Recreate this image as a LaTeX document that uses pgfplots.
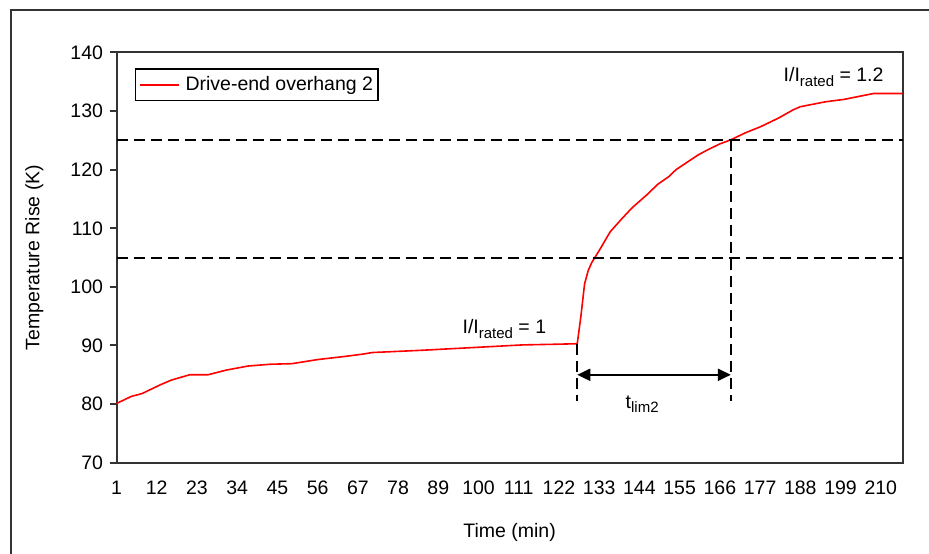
\documentclass[border=0pt]{standalone}
\usepackage{fontspec}
\setmainfont{Liberation Sans}
\usepackage{pgfplots}
\pgfplotsset{compat=1.18}
\usetikzlibrary{arrows.meta}
\newcommand\fs{\fontsize{19.5}{23}\selectfont}
\newcommand\sub[1]{\raisebox{-4.5pt}{\fontsize{15}{15}\selectfont #1}}
\definecolor{axgray}{RGB}{51,51,51}
\begin{document}
\begin{tikzpicture}[x=1pt,y=1pt]
\useasboundingbox (0,0) rectangle (929,554);
\draw[line width=2pt, color=axgray] (11,-5) -- (11,544) -- (934,544);
\begin{axis}[
  at={(116.5pt,91.3pt)}, anchor=south west,
  scale only axis, width=786.2pt, height=410.2pt,
  xmin=1, xmax=216, ymin=70, ymax=140,
  xtick={1,12,...,210}, ytick={70,80,...,140},
  axis line style={line width=2pt, color=axgray},
  tick align=outside,
  x tick style={draw=none},
  y tick style={line width=2pt, color=axgray},
  major tick length=6.5pt,
  ytick pos=left, xtick pos=bottom,
  tick label style={font=\fs},
  /pgf/number format/assume math mode=true,
  yticklabel style={xshift=-3.5pt},
  xticklabel style={yshift=-8pt},
  xlabel={Time (min)}, ylabel={Temperature Rise (K)},
  label style={font=\fs},
  xlabel style={at={(axis description cs:0.5,-0.171)}, anchor=center},
  ylabel style={at={(axis description cs:-0.1045,0.5)}, anchor=center},
  legend style={at={(axis description cs:0.0235,0.962)}, anchor=north west,
    draw=black, line width=1.5pt, font=\fs, inner xsep=3pt, inner ysep=6pt},
  legend image code/.code={\draw[#1, red, line width=1.8pt] (0pt,0pt) -- (39pt,0pt);},
  clip=false,
]
\addplot[red, line width=1.6pt] coordinates {
(1,80.1) (5,81.3) (8,81.8) (13,83.3) (16,84.1) (21,85.0) (26,85.0) (31,85.8)
(37,86.5) (43,86.8) (49,86.9) (56,87.6) (63,88.1) (68,88.5) (71,88.8) (78,89.0)
(85,89.2) (94,89.5) (103,89.8) (112,90.1) (120,90.2) (127,90.3) (128,95.0)
(129,100.5) (130,102.8) (131,104.2) (133,106.2) (136,109.4) (139,111.5)
(142,113.5) (146,115.7) (149,117.5) (152,118.8) (154,120.0) (160,122.5)
(163,123.5) (166,124.4) (169,125.1) (173,126.3) (177,127.3) (182,128.8)
(186,130.2) (188,130.75) (195,131.6) (200,132.0) (204,132.5) (208,133.0)
(216,133.0)};
\addlegendentry{\hspace{4pt}Drive-end overhang 2}
\addplot[forget plot, black, line width=2pt, dash pattern=on 11pt off 6pt] coordinates {(1,125) (216,125)};
\addplot[forget plot, black, line width=2pt, dash pattern=on 11pt off 6pt] coordinates {(1,105) (216,105)};
\addplot[forget plot, black, line width=2pt, dash pattern=on 11pt off 6pt] coordinates {(127,90.3) (127,80.5)};
\addplot[forget plot, black, line width=2pt, dash pattern=on 11pt off 6pt] coordinates {(169,125) (169,80.5)};
\addplot[forget plot, black, line width=2pt, {Triangle[length=13pt,width=12pt]}-{Triangle[length=13pt,width=12pt]}] coordinates {(127,85) (169,85)};
\node[anchor=base west, inner sep=0, font=\fs] at (axis cs:95.6,92.0) {I/I\sub{rated} = 1};
\node[anchor=base west, inner sep=0, font=\fs] at (axis cs:183.4,135.0) {I/I\sub{rated} = 1.2};
\node[anchor=base west, inner sep=0, font=\fs] at (axis cs:140.2,79.3) {t\sub{lim2}};
\end{axis}
\end{tikzpicture}
\end{document}
